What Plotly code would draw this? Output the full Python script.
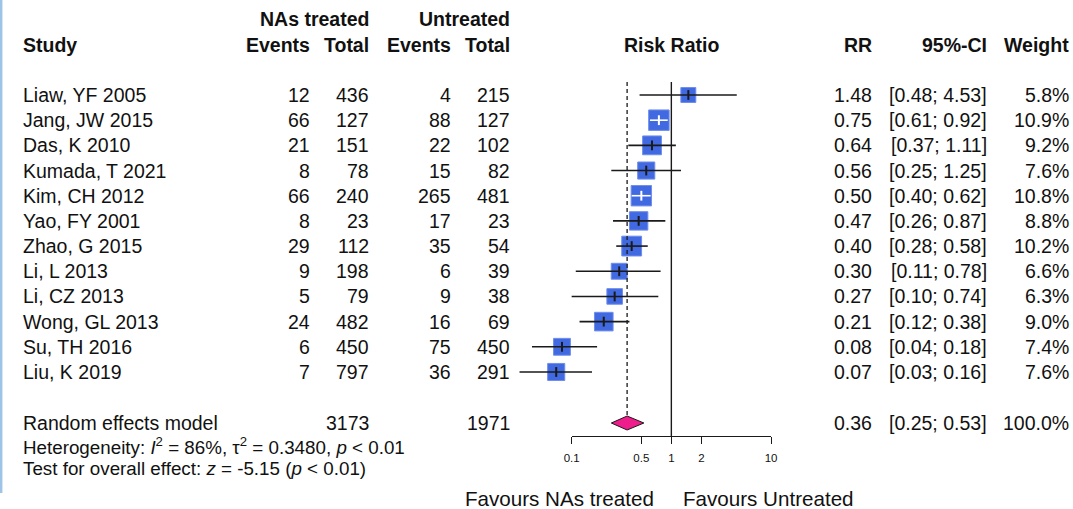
import numpy as np
import plotly.graph_objects as go

# ---- data -------------------------------------------------------------
studies = ["Liaw, YF 2005", "Jang, JW 2015", "Das, K 2010", "Kumada, T 2021",
           "Kim, CH 2012", "Yao, FY 2001", "Zhao, G 2015", "Li, L 2013",
           "Li, CZ 2013", "Wong, GL 2013", "Su, TH 2016", "Liu, K 2019"]
ev_trt = [12, 66, 21, 8, 66, 8, 29, 9, 5, 24, 6, 7]
n_trt = [436, 127, 151, 78, 240, 23, 112, 198, 79, 482, 450, 797]
ev_ctl = [4, 88, 22, 15, 265, 17, 35, 6, 9, 16, 75, 36]
n_ctl = [215, 127, 102, 82, 481, 23, 54, 39, 38, 69, 450, 291]
rr = [1.48, 0.75, 0.64, 0.56, 0.50, 0.47, 0.40, 0.30, 0.27, 0.21, 0.08, 0.07]
ci_lo = [0.48, 0.61, 0.37, 0.25, 0.40, 0.26, 0.28, 0.11, 0.10, 0.12, 0.04, 0.03]
ci_hi = [4.53, 0.92, 1.11, 1.25, 0.62, 0.87, 0.58, 0.78, 0.74, 0.38, 0.18, 0.16]
weight = [5.8, 10.9, 9.2, 7.6, 10.8, 8.8, 10.2, 6.6, 6.3, 9.0, 7.4, 7.6]

pooled_rr = 0.36
pooled_lo = 0.25
pooled_hi = 0.53
pooled_n_trt = 3173
pooled_n_ctl = 1971
pooled_weight = 100.0

tick_vals = [0.1, 0.5, 1, 2, 10]
tick_text = ["0.1", "0.5", "1", "2", "10"]

# ---- layout geometry (pixels) -----------------------------------------
W, H = 1073, 509
X_ONE = 671.35          # pixel of RR = 1
DECADE = 99.7           # pixels per log10 unit
ROW0, ROW_STEP = 95.0, 25.18
Y_POOLED = 423.0
Y_AXIS = 436.0
FONT = "Liberation Sans, Arial, Helvetica, sans-serif"
FS = 19.5

rows_y = [ROW0 + i * ROW_STEP for i in range(len(studies))]
x_lo_range = -X_ONE / DECADE
x_hi_range = (W - X_ONE) / DECADE

def px(v):
    return X_ONE + DECADE * np.log10(v)

fig = go.Figure()

# study squares (area proportional to weight)
sizes = [6.2 * np.sqrt(w) for w in weight]
fig.add_trace(go.Scatter(
    x=rr, y=rows_y, mode="markers",
    marker=dict(symbol="square", size=sizes, color="#4169E1", opacity=1,
                line=dict(color="#6F8EEA", width=1)),
    hoverinfo="skip", showlegend=False))

# confidence interval lines: white where they sit inside the square
ci_colors = []
for r, lo, hi, s in zip(rr, ci_lo, ci_hi, sizes):
    inside = (px(r) - px(lo) < s / 2) and (px(hi) - px(r) < s / 2)
    ci_colors.append("white" if inside else "#1a1a1a")

for col in ("#1a1a1a", "white"):
    xs, ys = [], []
    for lo, hi, y, c in zip(ci_lo, ci_hi, rows_y, ci_colors):
        if c == col:
            xs += [lo, hi, None]
            ys += [y, y, None]
    fig.add_trace(go.Scatter(x=xs, y=ys, mode="lines",
                             line=dict(color=col, width=1.6),
                             hoverinfo="skip", showlegend=False))
    px_r = [r for r, c in zip(rr, ci_colors) if c == col]
    py_r = [y for y, c in zip(rows_y, ci_colors) if c == col]
    fig.add_trace(go.Scatter(x=px_r, y=py_r, mode="markers",
                             marker=dict(symbol="line-ns", size=7,
                                         line=dict(color=col, width=2)),
                             hoverinfo="skip", showlegend=False))

# line of no effect and pooled-estimate reference line
fig.add_trace(go.Scatter(x=[1, 1], y=[82, Y_AXIS], mode="lines",
                         line=dict(color="#1a1a1a", width=1.4),
                         hoverinfo="skip", showlegend=False))
fig.add_trace(go.Scatter(x=[pooled_rr, pooled_rr], y=[82, Y_POOLED - 7], mode="lines",
                         line=dict(color="#1a1a1a", width=1.3, dash="4px,3px"),
                         hoverinfo="skip", showlegend=False))

# pooled diamond
fig.add_trace(go.Scatter(
    x=[pooled_lo, pooled_rr, pooled_hi, pooled_rr, pooled_lo],
    y=[Y_POOLED, Y_POOLED - 7, Y_POOLED, Y_POOLED + 7, Y_POOLED],
    mode="lines", fill="toself", fillcolor="#EF1C8C",
    line=dict(color="#1a1a1a", width=1),
    hoverinfo="skip", showlegend=False))

# dummy trace so the visible log axis gets its own subplot
fig.add_trace(go.Scatter(x=[1], y=[-1000], xaxis="x2", yaxis="y",
                         mode="markers", marker=dict(opacity=0),
                         hoverinfo="skip", showlegend=False))

# ---- text -------------------------------------------------------------
ann = []

def text(x, y, s, anchor="left", bold=False, size=FS):
    if bold:
        s = "<b>" + s + "</b>"
    ann.append(dict(x=x / W, y=y, xref="paper", yref="y", text=s,
                    showarrow=False, xanchor=anchor, yanchor="middle",
                    font=dict(family=FONT, size=size, color="#111111")))

LEFT = 20.5
COL_ET, COL_NT, COL_EC, COL_NC = 312, 371, 453, 512
COL_RR, COL_CI, COL_W = 874, 989, 1071

# headers
text(COL_NT, 19, "NAs treated", "right", True)
text(COL_NC, 19, "Untreated", "right", True)
text(LEFT, 45, "Study", "left", True)
text(COL_ET, 45, "Events", "right", True)
text(COL_NT, 45, "Total", "right", True)
text(COL_EC, 45, "Events", "right", True)
text(COL_NC, 45, "Total", "right", True)
text(X_ONE, 45, "Risk Ratio", "center", True)
text(COL_RR, 45, "RR", "right", True)
text(COL_CI, 45, "95%-CI", "right", True)
text(COL_W, 45, "Weight", "right", True)

# study rows
for i, y in enumerate(rows_y):
    text(LEFT, y, studies[i])
    text(COL_ET, y, str(ev_trt[i]), "right")
    text(COL_NT, y, str(n_trt[i]), "right")
    text(COL_EC, y, str(ev_ctl[i]), "right")
    text(COL_NC, y, str(n_ctl[i]), "right")
    text(COL_RR, y, f"{rr[i]:.2f}", "right")
    text(COL_CI, y, f"[{ci_lo[i]:.2f}; {ci_hi[i]:.2f}]", "right")
    text(COL_W, y, f"{weight[i]:.1f}%", "right")

# pooled row
text(LEFT, Y_POOLED, "Random effects model")
text(COL_NT, Y_POOLED, str(pooled_n_trt), "right")
text(COL_NC, Y_POOLED, str(pooled_n_ctl), "right")
text(COL_RR, Y_POOLED, f"{pooled_rr:.2f}", "right")
text(COL_CI, Y_POOLED, f"[{pooled_lo:.2f}; {pooled_hi:.2f}]", "right")
text(COL_W, Y_POOLED, f"{pooled_weight:.1f}%", "right")

text(LEFT, 446, "Heterogeneity: <i>I</i><sup>2</sup> = 86%, τ<sup>2</sup> = 0.3480, <i>p</i> < 0.01",
     size=18.8)
text(LEFT, 468, "Test for overall effect: <i>z</i> = -5.15 (<i>p</i> < 0.01)", size=18.8)

text(656, 498, "Favours NAs treated", "right", size=20.6)
text(681, 498, "Favours Untreated", "left", size=20.6)

# ---- layout -----------------------------------------------------------
fig.update_layout(
    width=W, height=H,
    margin=dict(l=0, r=0, t=0, b=0, autoexpand=False),
    paper_bgcolor="white", plot_bgcolor="rgba(0,0,0,0)",
    showlegend=False,
    annotations=ann,
    xaxis=dict(type="log", range=[x_lo_range, x_hi_range], domain=[0, 1],
               visible=False, fixedrange=True),
    xaxis2=dict(type="log", range=[-1, 1],
                domain=[px(0.1) / W, px(10) / W],
                anchor="free", position=1 - Y_AXIS / H, side="bottom",
                showline=True, linecolor="#1a1a1a", linewidth=1.3,
                ticks="outside", ticklen=7, tickwidth=1.3, tickcolor="#1a1a1a",
                tickvals=tick_vals, ticktext=tick_text,
                tickfont=dict(family=FONT, size=11.5, color="#111111"),
                ticklabelstandoff=4,
                showgrid=False, zeroline=False, fixedrange=True),
    yaxis=dict(range=[H, 0], domain=[0, 1], visible=False, fixedrange=True),
    shapes=[dict(type="line", xref="paper", yref="paper",
                 x0=1.2 / W, x1=1.2 / W, y0=1, y1=1 - 493 / H,
                 line=dict(color="#9DC3E6", width=2.4))],
)

fig.write_html("out.html")
